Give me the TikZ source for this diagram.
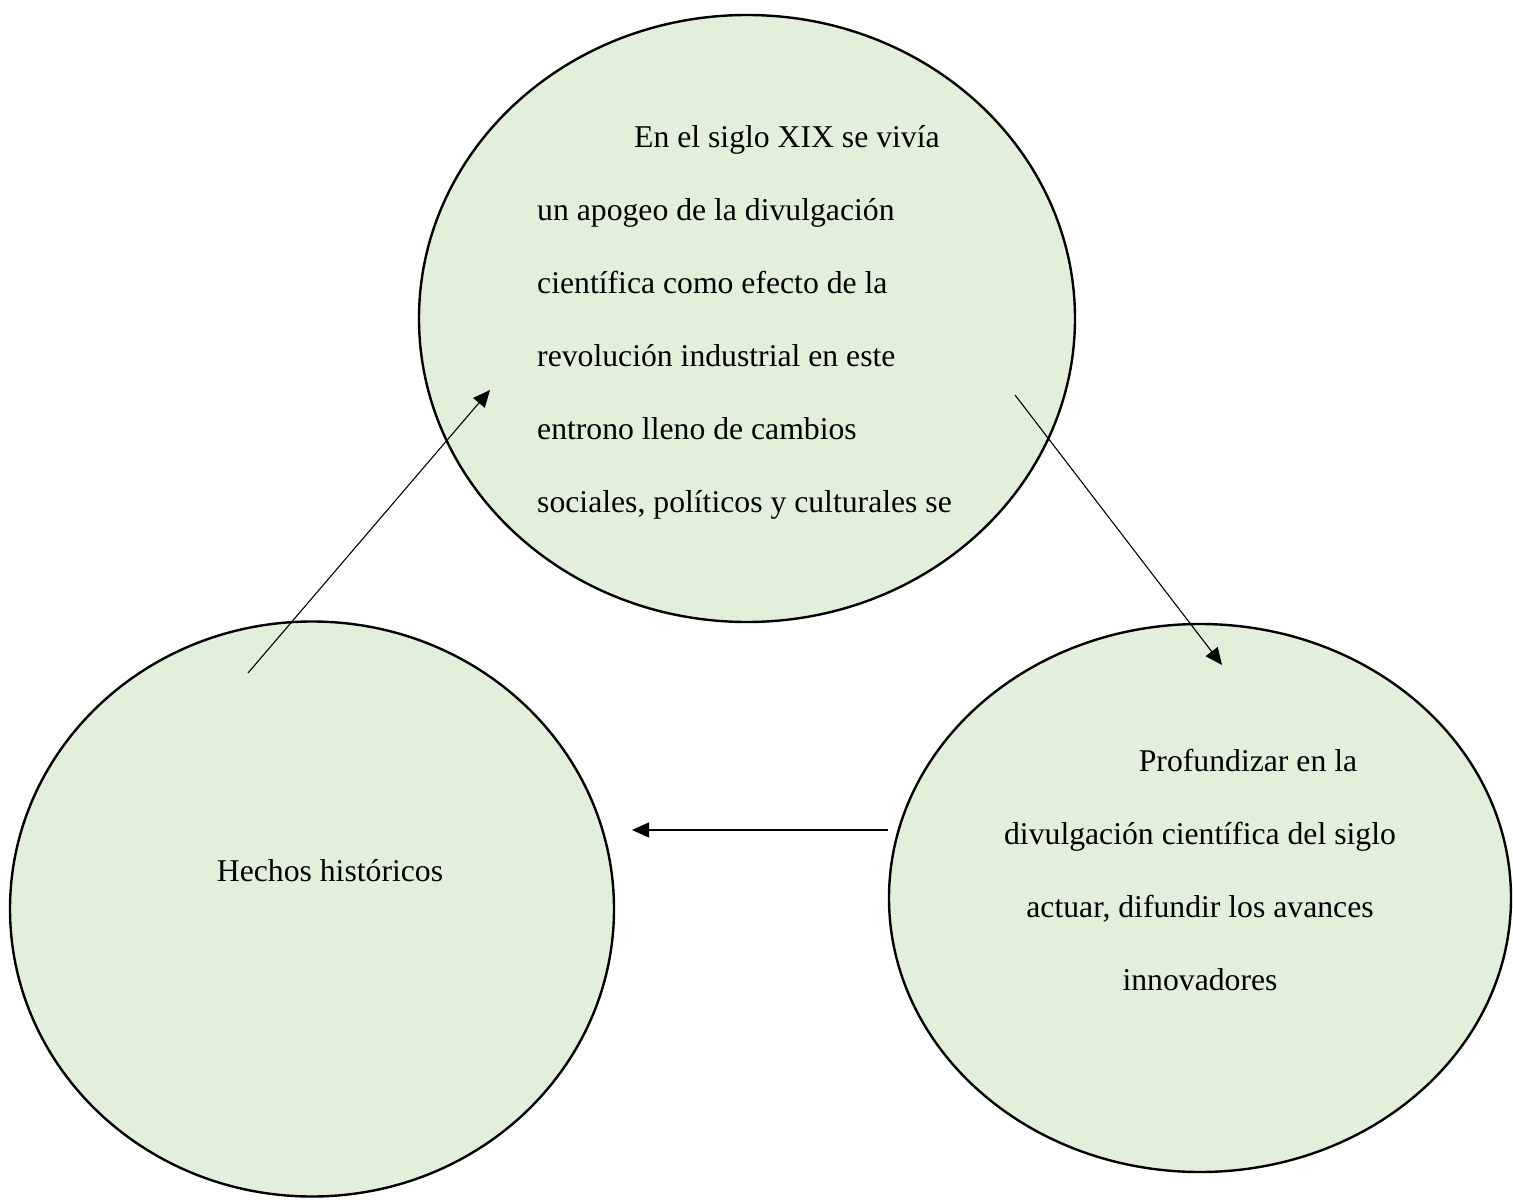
\documentclass[tikz,border=0pt]{standalone}
\usepackage{fontspec}
\setmainfont{Liberation Serif}
\usetikzlibrary{arrows.meta,shapes.geometric}
\definecolor{leaf}{RGB}{226,239,218}
\tikzset{
  bubble/.style={ellipse, draw=black, line width=2.4pt, fill=leaf, inner sep=0pt},
  link/.style={draw=black, line width=1.1pt, -{Triangle[length=17pt,width=15pt]}},
  txt/.style={font=\fontsize{31.7}{73}\selectfont, inner sep=0pt}
}
\begin{document}
\begin{tikzpicture}[x=1pt,y=-1pt]
\useasboundingbox (0,0) rectangle (1513,1201);
% ellipses
\node[bubble, minimum width=656pt, minimum height=607pt] (top) at (747,318.5) {};
\node[bubble, minimum width=604pt, minimum height=575pt] (left) at (312,909) {};
\node[bubble, minimum width=622pt, minimum height=548pt] (right) at (1200,898) {};
% texts
\node[txt, align=left, anchor=north west] (toptext) at (537,125)
 {\hspace*{97pt}En el siglo XIX se vivía\\
  un apogeo de la divulgación\\
  científica como efecto de la\\
  revolución industrial en este\\
  entrono lleno de cambios\\
  sociales, políticos y culturales se};
\node[txt, anchor=base] (lefttext) at (330,881) {Hechos históricos};
\node[txt, align=center, anchor=north] (righttext) at (1200,749)
 {\hspace*{96pt}Profundizar en la\\
  divulgación científica del siglo\\
  actuar, difundir los avances\\
  innovadores};
% connector ends
\coordinate (a1s) at (248,673);
\coordinate (a1e) at (490,390);
\coordinate (a2s) at (1015,395);
\coordinate (a2e) at (1222,665);
\coordinate (a3s) at (888,830);
\coordinate (a3e) at (632,830);
\draw[link] (a1s) -- (a1e);
\draw[link] (a2s) -- (a2e);
\draw[link] (a3s) -- (a3e);
\end{tikzpicture}
\end{document}
